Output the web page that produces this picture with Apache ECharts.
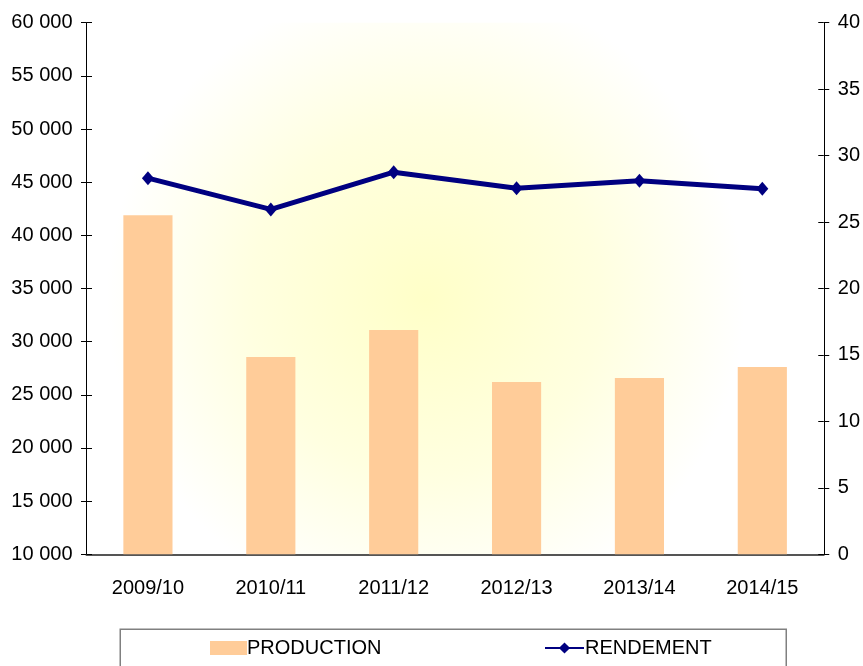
<!DOCTYPE html>
<html>
<head>
<meta charset="utf-8">
<script src="https://cdn.jsdelivr.net/npm/echarts@6/dist/echarts.min.js"></script>
<style>
  html, body { margin: 0; padding: 0; background: #fff; }
  #chart { width: 863px; height: 666px; }
</style>
</head>
<body>
<div id="chart"></div>
<script>
// données
var campagnes = ['2009/10', '2010/11', '2011/12', '2012/13', '2013/14', '2014/15'];
var production = [41900, 28560, 31100, 26200, 26580, 27620];
var rendement = [28.3, 25.95, 28.75, 27.55, 28.1, 27.5];

var FONT = "'Liberation Sans', Arial, sans-serif";
var FS = 20;

function frNum(v) {
  // 10000 -> "10 000"
  return String(v).replace(/\B(?=(\d{3})+(?!\d))/g, ' ');
}

var chart = echarts.init(document.getElementById('chart'));
chart.setOption({
  animation: false,
  textStyle: { fontFamily: FONT },
  grid: {
    left: 86.5,
    right: 39,
    top: 22.7,
    bottom: 111.7,
    show: true,
    borderWidth: 0,
    backgroundColor: new echarts.graphic.RadialGradient(0.46, 0.52, 0.6, [
      { offset: 0, color: '#ffffc8' },
      { offset: 0.55, color: '#ffffe0' },
      { offset: 1, color: '#ffffff' }
    ])
  },
  graphic: [{
    type: 'rect',
    left: 119.5,
    top: 628.5,
    shape: { width: 666, height: 60 },
    style: { fill: '#fff', stroke: '#808080', lineWidth: 1.5 },
    z: -1
  }],
  legend: [{
    data: [{ name: 'PRODUCTION', icon: 'rect' }],
    left: 205,
    top: 633,
    itemWidth: 37,
    itemHeight: 14,
    textStyle: { fontFamily: FONT, fontSize: FS, color: '#000', padding: [0, 0, 0, -5] }
  }, {
    data: ['RENDEMENT'],
    left: 539,
    top: 633,
    itemWidth: 39,
    itemHeight: 14,
    textStyle: { fontFamily: FONT, fontSize: FS, color: '#000', padding: [0, 0, 0, -4] }
  }],
  xAxis: [{
    type: 'category',
    data: campagnes,
    axisLine: { lineStyle: { color: '#555', width: 2 } },
    axisTick: { length: 7, lineStyle: { color: '#000' } },
    axisLabel: { color: '#000', fontSize: FS, fontFamily: FONT, margin: 24 },
    splitLine: { show: false }
  }, {
    type: 'category',
    data: campagnes,
    position: 'bottom',
    axisLine: { show: false },
    axisTick: { inside: true, length: 7, lineStyle: { color: '#000' } },
    axisLabel: { show: false },
    splitLine: { show: false }
  }],
  yAxis: [{
    type: 'value',
    position: 'left',
    min: 10000,
    max: 60000,
    interval: 5000,
    axisLine: { show: true, lineStyle: { color: '#000', width: 1 } },
    axisTick: { show: true, length: 5.5, lineStyle: { color: '#000' } },
    axisLabel: { color: '#000', fontSize: FS, fontFamily: FONT, margin: 14, formatter: frNum },
    splitLine: { show: false }
  }, {
    type: 'value',
    position: 'right',
    min: 0,
    max: 40,
    interval: 5,
    axisLine: { show: true, lineStyle: { color: '#000', width: 1 } },
    axisTick: { show: true, length: 5.5, lineStyle: { color: '#000' } },
    axisLabel: { color: '#000', fontSize: FS, fontFamily: FONT, margin: 14 },
    splitLine: { show: false }
  }, {
    type: 'value',
    position: 'left',
    min: 10000,
    max: 60000,
    interval: 5000,
    axisLine: { show: false },
    axisTick: { show: true, inside: true, length: 5.5, lineStyle: { color: '#000' } },
    axisLabel: { show: false },
    splitLine: { show: false }
  }, {
    type: 'value',
    position: 'right',
    min: 0,
    max: 40,
    interval: 5,
    axisLine: { show: false },
    axisTick: { show: true, inside: true, length: 5.5, lineStyle: { color: '#000' } },
    axisLabel: { show: false },
    splitLine: { show: false }
  }],
  series: [{
    name: 'PRODUCTION',
    type: 'bar',
    yAxisIndex: 0,
    barWidth: '40%',
    data: production,
    itemStyle: { color: '#ffcc99' }
  }, {
    name: 'RENDEMENT',
    type: 'line',
    yAxisIndex: 1,
    data: rendement,
    symbol: 'diamond',
    symbolSize: [12, 14],
    lineStyle: { color: '#000080', width: 5 },
    itemStyle: { color: '#000080' },
    z: 5
  }]
});
</script>
</body>
</html>
